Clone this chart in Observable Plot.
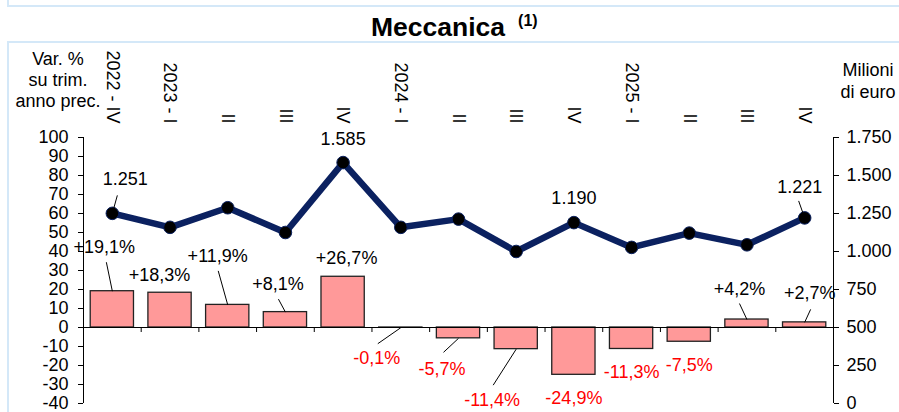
<!DOCTYPE html>
<html>
<head>
<meta charset="utf-8">
<script src="https://cdn.jsdelivr.net/npm/d3@7"></script>
<script src="https://cdn.jsdelivr.net/npm/@observablehq/plot@0.6"></script>
<style>
  html, body { margin: 0; padding: 0; background: #fff; }
  #wrap { position: relative; width: 899px; height: 412px; overflow: hidden;
          font-family: "Liberation Sans", Arial, sans-serif; color: #000; }
  #wrap svg { position: absolute; left: 0; top: 0; }
  .bl { position: absolute; background: #d4e8f8; }
  .txt { position: absolute; font-size: 18px; text-align: center; white-space: nowrap; line-height: 21px; }
  #title { position: absolute; left: 371px; top: 14px; font-size: 26.5px; font-weight: bold; line-height: 26px; white-space: nowrap; }
  #title span { position: relative; top: -10px; font-size: 16px; margin-left: 13px; }
</style>
</head>
<body>
<div id="wrap">
  <div id="chart"></div>
  <div class="bl" style="left:7px;top:0;width:1.5px;height:5px"></div>
  <div class="bl" style="left:7px;top:5px;width:892px;height:1.5px"></div>
  <div class="bl" style="left:7px;top:41px;width:892px;height:1.5px"></div>
  <div class="bl" style="left:7px;top:41px;width:1.5px;height:371px"></div>
  <div id="title">Meccanica<span>(1)</span></div>
  <div class="txt" style="left:0;top:49px;width:116px">Var. %<br>su trim.<br>anno prec.</div>
  <div class="txt" style="left:818px;top:59px;width:100px;line-height:22px">Milioni<br>di euro</div>
</div>
<script>
// ---- data ----
const quarters = ["2022 - IV", "2023 - I", "II", "III", "IV", "2024 - I", "II", "III", "IV", "2025 - I", "II", "III", "IV"];
const pctChange = [19.1, 18.3, 11.9, 8.1, 26.7, -0.1, -5.7, -11.4, -24.9, -11.3, -7.5, 4.2, 2.7];
const millions = [1251, 1159, 1288, 1125, 1585, 1159, 1213, 1000, 1190, 1027, 1121, 1044, 1221];
const labeledPoints = [0, 4, 8, 12];
const leftTicks = [-40, -30, -20, -10, 0, 10, 20, 30, 40, 50, 60, 70, 80, 90, 100];
const rightTicks = [0, 250, 500, 750, 1000, 1250, 1500, 1750];

// ---- annotation layout (pixel offsets of labels from their anchor; leader start relative to label) ----
const barLabelLayout = [
  [-8, -44, [2, 15]], [-10.5, -17, null], [-10, -49, [0.5, 15]], [-7.5, -28, [0.5, 15]],
  [3.5, -19, null], [-24, 31, [1, -15]], [-16.5, 31, [1.5, -17]], [-24, 51, [1, -15]],
  [0, 23, null], [0, 23.5, null], [0, 23, null], [-7.5, -30, [0, 14]], [5, -29, [1, 16]]
];
const lineLabelLayout = { 0: [13, -34, [-8, 16]], 4: [0, -23, null], 8: [0, -24, null], 12: [-5, -31, [-1, 14]] };

// ---- layout ----
const W = 899, H = 412, mL = 83, mR = 66, mT = 137, mB = 9;
const FS = 18;
const xDomain = [-0.5, quarters.length - 0.5];
const yDomain = [leftTicks[0], leftTicks[leftTicks.length - 1]];
const rDomain = [rightTicks[0], rightTicks[rightTicks.length - 1]];
const kx = (W - mL - mR) / (xDomain[1] - xDomain[0]);
const ky = (H - mT - mB) / (yDomain[1] - yDomain[0]);
const rk = (rDomain[1] - rDomain[0]) / (yDomain[1] - yDomain[0]);
const toLeft = v => (v - rDomain[0]) / rk + yDomain[0];
const toRight = d => (d - yDomain[0]) * rk + rDomain[0];
const thousands = n => n >= 1000 ? Math.floor(n / 1000) + "." + String(n % 1000).padStart(3, "0") : String(n);
const pctFmt = v => (v > 0 ? "+" : "-") + Math.abs(v).toFixed(1).replace(".", ",") + "%";

const bars = quarters.map((q, i) => ({ i, q, pct: pctChange[i] }));
const pts = quarters.map((q, i) => ({ i, q, val: millions[i], yl: toLeft(millions[i]) }));

const barLabels = bars.map(d => {
  const [dx, dy, lead] = barLabelLayout[d.i];
  const lx = d.i + dx / kx, ly = d.pct - dy / ky;
  return { ...d, lx, ly, text: pctFmt(d.pct), neg: d.pct < 0,
    lead: lead ? { x1: lx + lead[0] / kx, y1: ly - lead[1] / ky, x2: d.i, y2: d.pct } : null };
});
const lineLabels = labeledPoints.map(i => {
  const [dx, dy, lead] = lineLabelLayout[i];
  const p = pts[i];
  const lx = i + dx / kx, ly = p.yl - dy / ky;
  return { ...p, lx, ly, text: thousands(p.val),
    lead: lead ? { x1: lx + lead[0] / kx, y1: ly - lead[1] / ky, x2: i, y2: p.yl } : null };
});
const leaders = [...barLabels, ...lineLabels].filter(d => d.lead).map(d => d.lead);
const boundaries = quarters.slice(1).map((q, i) => i + 0.5);

const chart = Plot.plot({
  width: W, height: H,
  marginLeft: mL, marginRight: mR, marginTop: mT, marginBottom: mB,
  style: { fontFamily: "'Liberation Sans', Arial, sans-serif", fontSize: FS + "px", color: "#000", background: "transparent", overflow: "visible" },
  x: { type: "linear", domain: xDomain, axis: null },
  y: { domain: yDomain, axis: null },
  marks: [
    Plot.rectY(bars, { x1: d => d.i - 0.375, x2: d => d.i + 0.375, y: "pct", fill: "#ff9999", stroke: "#222", strokeWidth: 1.3 }),
    Plot.ruleY([0], { stroke: "#000", strokeWidth: 1.2 }),
    Plot.ruleX(boundaries, { y1: 0, y2: -5 / ky, stroke: "#000", strokeWidth: 1 }),
    Plot.ruleX([xDomain[0], xDomain[1]], { stroke: "#000", strokeWidth: 1 }),
    Plot.axisY({ anchor: "left", ticks: leftTicks, tickFormat: d => String(d), tickSize: 5, tickPadding: 10, label: null, fontSize: FS }),
    Plot.axisY({ anchor: "right", ticks: rightTicks.map(toLeft), tickFormat: d => thousands(Math.round(toRight(d))), tickSize: 5, tickPadding: 8, label: null, fontSize: FS }),
    Plot.text(quarters, { x: (d, i) => i, frameAnchor: "top", dy: -14, rotate: 90, textAnchor: "end", lineAnchor: "middle", fontSize: FS }),
    Plot.line(pts, { x: "i", y: "yl", stroke: "#0b2160", strokeWidth: 6.5, strokeLinejoin: "round" }),
    Plot.dot(pts, { x: "i", y: "yl", r: 6.3, fill: "#000", stroke: "#0b2160", strokeWidth: 1 }),
    Plot.link(leaders, { x1: "x1", y1: "y1", x2: "x2", y2: "y2", stroke: "#000", strokeWidth: 1 }),
    Plot.text(barLabels, { x: "lx", y: "ly", text: "text", fill: d => d.neg ? "#ff0000" : "#000", fontSize: FS, lineAnchor: "middle" }),
    Plot.text(lineLabels, { x: "lx", y: "ly", text: "text", fill: "#000", fontSize: FS, lineAnchor: "middle" })
  ]
});
document.getElementById("chart").appendChild(chart);
</script>
</body>
</html>
